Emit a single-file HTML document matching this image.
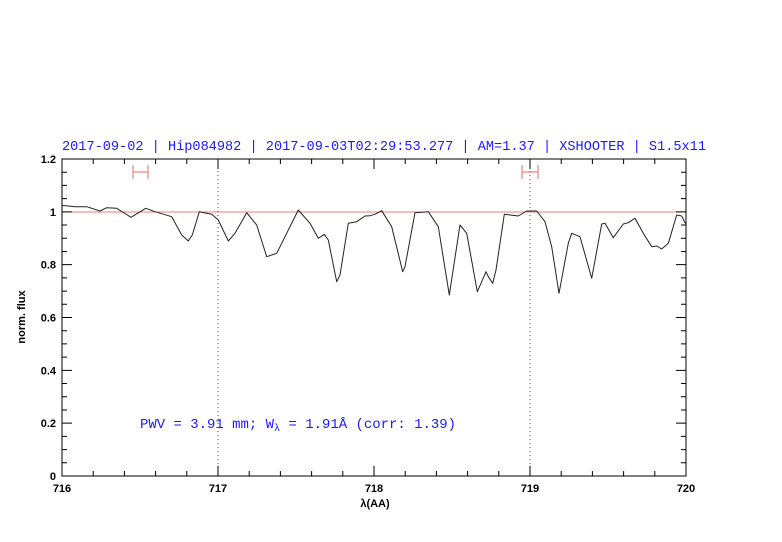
<!DOCTYPE html>
<html><head><meta charset="utf-8"><style>body{margin:0;background:#fff}svg{display:block}</style></head><body>
<svg width="782" height="542" xmlns="http://www.w3.org/2000/svg" font-family="'Liberation Sans',sans-serif">
<rect width="782" height="542" fill="#fff"/>
<text x="62" y="150" font-size="13.5" fill="#1a1aff" textLength="644" lengthAdjust="spacingAndGlyphs" font-family="'Liberation Mono',monospace">2017-09-02 | Hip084982 | 2017-09-03T02:29:53.277 | AM=1.37 | XSHOOTER | S1.5x11</text>
<line x1="62" y1="212" x2="686" y2="212" stroke="#e8806f" stroke-width="1"/>
<line x1="218" y1="159" x2="218" y2="476" stroke="#444" stroke-dasharray="1,3"/>
<line x1="530" y1="159" x2="530" y2="476" stroke="#444" stroke-dasharray="1,3"/>
<g stroke="#f08080" stroke-width="1.2"><line x1="133" y1="172" x2="148" y2="172"/><line x1="133" y1="165" x2="133" y2="179"/><line x1="148" y1="165" x2="148" y2="179"/>
<line x1="522" y1="172" x2="538" y2="172"/><line x1="522" y1="165" x2="522" y2="179"/><line x1="538" y1="165" x2="538" y2="179"/></g>
<polyline fill="none" stroke="#222" stroke-width="1" stroke-linejoin="round" points="62,205.5 66,205.7 75,206.7 86.7,206.7 100,211 106.7,207.7 116.7,208.3 131,217.3 145.7,208.3 155,211.7 171.7,216.7 181.7,235 188.3,241 192.3,235 199.3,211.7 211.7,214.3 218.3,220 228.3,241 235,233.3 246.7,212.7 256.7,225 266.7,256.7 276.7,253.3 298.3,210 310,223.3 318.3,238.3 324.3,234.3 328.3,240 336.7,281.7 340,275 348.3,223.3 356.7,221.7 365,216 370,215.7 375,214.3 381.7,210.7 391.7,226.7 402.7,271.7 405,266.7 415,212.7 428.3,211.7 438.3,226.7 449.3,295 460,225 466.7,233.3 477.3,291.7 481.7,281.7 486,271.7 488.3,276.7 492.7,283.3 496,270 504.3,214.3 518.3,216 526.7,211 536.7,211 545,221.7 551.7,246.7 559,293.3 568.3,243.3 571.7,233.3 580,236.7 591.7,278.3 601.7,224 605,223.3 613.3,237.7 623.3,224 628.3,222.7 635,218.3 643.3,233.3 651.7,246.7 656.7,246 661.7,249 668.3,243.3 676.7,215 681.7,216 685,222.7 686,224"/>
<rect x="62" y="159" width="624" height="317" fill="none" stroke="#000" stroke-width="1"/>
<g stroke="#000" stroke-width="1">
<path d="M62,476v-10M218,476v-10M374,476v-10M530,476v-10M686,476v-10M62,159v10M218,159v10M374,159v10M530,159v10M686,159v10
M93.2,476v-5M124.4,476v-5M155.6,476v-5M186.8,476v-5M249.2,476v-5M280.4,476v-5M311.6,476v-5M342.8,476v-5M405.2,476v-5M436.4,476v-5M467.6,476v-5M498.8,476v-5M561.2,476v-5M592.4,476v-5M623.6,476v-5M654.8,476v-5
M93.2,159v5M124.4,159v5M155.6,159v5M186.8,159v5M249.2,159v5M280.4,159v5M311.6,159v5M342.8,159v5M405.2,159v5M436.4,159v5M467.6,159v5M498.8,159v5M561.2,159v5M592.4,159v5M623.6,159v5M654.8,159v5"/>
</g>
<g stroke="#000" stroke-width="1" id="yt"></g>
<script>
var g=document.getElementById('yt'),d='';
for(var i=0;i<=24;i++){var y=476-i*13.208;var L=(i%4==0)?10:5;d+='M62,'+y+'h'+L+'M686,'+y+'h-'+L;}
var p=document.createElementNS('http://www.w3.org/2000/svg','path');p.setAttribute('d',d);g.appendChild(p);
</script>
<g font-size="11" font-weight="bold" fill="#000" text-anchor="end">
<text x="56" y="480">0</text><text x="56" y="427.2">0.2</text><text x="56" y="374.3">0.4</text><text x="56" y="321.5">0.6</text><text x="56" y="268.7">0.8</text><text x="56" y="215.8">1</text><text x="56" y="163">1.2</text>
</g>
<g font-size="11" font-weight="bold" fill="#000" text-anchor="middle">
<text x="62" y="492">716</text><text x="218" y="492">717</text><text x="374" y="492">718</text><text x="530" y="492">719</text><text x="686" y="492">720</text>
<text x="375" y="507">λ(AA)</text>
<text transform="translate(25,317) rotate(-90)">norm. flux</text>
</g>
<text x="140" y="428" font-size="13.5" fill="#1a1aff" font-family="'Liberation Mono',monospace" textLength="316" lengthAdjust="spacingAndGlyphs">PWV = 3.91 mm; W<tspan font-size="10" dy="3">λ</tspan><tspan dy="-3"> = 1.91Å (corr: 1.39)</tspan></text>
</svg>
</body></html>
